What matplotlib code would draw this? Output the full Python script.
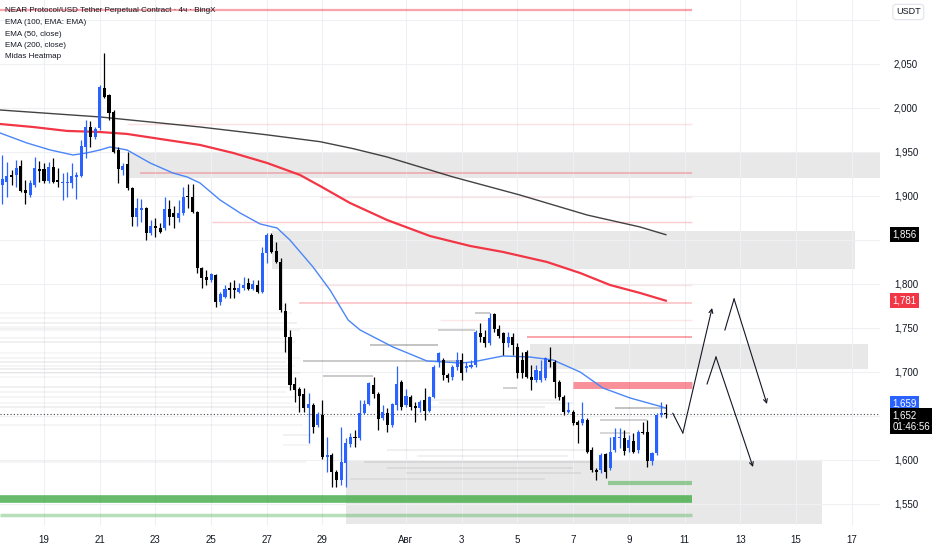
import numpy as np
import pandas as pd
import matplotlib
matplotlib.use("Agg")
import matplotlib.pyplot as plt
from matplotlib.patches import Rectangle

plt.rcParams['font.family'] = ['Liberation Sans Narrow', 'Liberation Sans', 'DejaVu Sans']

# 4h candles, NEAR/USDT
opens = [1912, 1916, 1923, 1924, 1934, 1907, 1901, 1912, 1931, 1931, 1917, 1933, 1918, 1915, 1915, 1915,
         1922, 1923, 1956, 1978, 1967, 1977, 2023, 2015, 1995, 1952, 1930, 1936, 1909, 1876, 1884, 1886,
         1858, 1866, 1864, 1864, 1885, 1881, 1875, 1881, 1900, 1899, 1882, 1818, 1808, 1805, 1810, 1780,
         1785, 1795, 1795, 1791, 1795, 1801, 1794, 1799, 1791, 1835, 1856, 1838, 1825, 1769, 1740, 1686,
         1681, 1675, 1659, 1662, 1640, 1651, 1603, 1606, 1586, 1577, 1597, 1618, 1626, 1625, 1653, 1664,
         1685, 1675, 1648, 1653, 1640, 1662, 1689, 1662, 1672, 1661, 1659, 1668, 1656, 1672, 1711, 1714,
         1697, 1694, 1706, 1714, 1705, 1706, 1708, 1744, 1740, 1733, 1766, 1749, 1744, 1733, 1740, 1728,
         1714, 1723, 1694, 1691, 1691, 1693, 1714, 1711, 1689, 1672, 1655, 1655, 1643, 1642, 1645, 1611,
         1589, 1589, 1607, 1591, 1611, 1625, 1625, 1614, 1622, 1611, 1632, 1632, 1599, 1608, 1651, 1653]
highs = [1947, 1939, 1930, 1941, 1941, 1918, 1918, 1944, 1940, 1937, 1939, 1943, 1932, 1926, 1927, 1937,
         1927, 1964, 1986, 1985, 1978, 2026, 2062, 2016, 1998, 1956, 1937, 1950, 1910, 1898, 1897, 1888,
         1873, 1875, 1869, 1899, 1895, 1889, 1895, 1910, 1914, 1914, 1883, 1819, 1816, 1812, 1811, 1791,
         1799, 1802, 1805, 1801, 1808, 1807, 1805, 1805, 1842, 1858, 1858, 1848, 1830, 1778, 1748, 1694,
         1683, 1682, 1676, 1665, 1654, 1668, 1626, 1608, 1589, 1637, 1625, 1631, 1634, 1668, 1668, 1689,
         1694, 1677, 1662, 1659, 1665, 1707, 1691, 1681, 1674, 1666, 1668, 1682, 1673, 1708, 1723, 1716,
         1699, 1708, 1723, 1722, 1711, 1714, 1748, 1756, 1748, 1767, 1767, 1753, 1745, 1745, 1744, 1733,
         1723, 1725, 1708, 1708, 1714, 1717, 1728, 1714, 1691, 1674, 1666, 1657, 1645, 1666, 1648, 1615,
         1591, 1608, 1608, 1626, 1636, 1636, 1634, 1628, 1631, 1634, 1643, 1645, 1609, 1653, 1666, 1664]
lows = [1891, 1899, 1912, 1910, 1905, 1891, 1899, 1910, 1916, 1915, 1915, 1915, 1910, 1895, 1899, 1909,
        1897, 1922, 1943, 1956, 1965, 1975, 2011, 1986, 1949, 1915, 1924, 1907, 1866, 1866, 1870, 1850,
        1856, 1853, 1858, 1861, 1867, 1864, 1870, 1878, 1886, 1881, 1812, 1795, 1799, 1802, 1774, 1776,
        1784, 1784, 1784, 1790, 1793, 1793, 1793, 1790, 1790, 1824, 1835, 1824, 1768, 1723, 1680, 1666,
        1655, 1655, 1619, 1631, 1637, 1601, 1586, 1569, 1569, 1572, 1569, 1615, 1615, 1623, 1652, 1662,
        1670, 1634, 1645, 1632, 1637, 1657, 1657, 1660, 1657, 1643, 1655, 1645, 1655, 1670, 1706, 1691,
        1689, 1691, 1702, 1691, 1700, 1705, 1706, 1734, 1728, 1731, 1745, 1739, 1719, 1728, 1719, 1693,
        1693, 1693, 1680, 1689, 1689, 1691, 1706, 1670, 1668, 1651, 1653, 1640, 1619, 1640, 1608, 1586,
        1577, 1585, 1580, 1589, 1609, 1614, 1606, 1609, 1608, 1608, 1630, 1592, 1594, 1606, 1649, 1648]
closes = [1919, 1923, 1922, 1932, 1906, 1903, 1915, 1932, 1928, 1917, 1933, 1916, 1916, 1916, 1916, 1923,
          1924, 1957, 1978, 1967, 1976, 2024, 2012, 1994, 1950, 1931, 1934, 1909, 1876, 1886, 1886, 1858,
          1866, 1864, 1859, 1885, 1876, 1876, 1881, 1899, 1899, 1882, 1818, 1807, 1805, 1811, 1780, 1789,
          1794, 1793, 1793, 1795, 1799, 1794, 1800, 1791, 1835, 1856, 1836, 1825, 1770, 1740, 1685, 1680,
          1673, 1659, 1664, 1637, 1652, 1603, 1606, 1586, 1577, 1598, 1619, 1626, 1625, 1653, 1664, 1688,
          1675, 1647, 1655, 1640, 1664, 1686, 1660, 1673, 1660, 1659, 1666, 1656, 1672, 1706, 1722, 1697,
          1693, 1706, 1714, 1699, 1706, 1708, 1745, 1740, 1733, 1761, 1749, 1741, 1733, 1740, 1731, 1699,
          1699, 1694, 1691, 1702, 1701, 1716, 1711, 1689, 1672, 1655, 1657, 1642, 1640, 1647, 1609, 1589,
          1586, 1606, 1586, 1609, 1626, 1626, 1610, 1623, 1609, 1632, 1631, 1599, 1608, 1651, 1653, 1652]
last_price = 1652
last_time = "2025-08-10 08:00"
base_day = pd.Timestamp("2025-07-19")

# EMA lines, sampled as (days since Jul 19, price)
ema200_day = [-1.58, 2.01, 5.60, 8.0, 9.91, 11.1, 12.32, 14.69, 17.09, 19.50, 21.40, 22.33]
ema200_val = [1997.7, 1989.8, 1978.4, 1969.5, 1961.7, 1953.8, 1944.3, 1921.6, 1901.1, 1878.4, 1864.8, 1856]
ema100_day = [-1.58, -0.40, 0.83, 2.01, 2.98, 4.42, 5.60, 6.79, 8.01, 9.19, 9.91, 10.99, 12.32, 13.86,
              15.30, 16.48, 18.06, 19.25, 20.32, 21.40, 22.33]
ema100_val = [1981.8, 1978.4, 1973.9, 1972.7, 1970.5, 1963.6, 1958.0, 1948.9, 1937.5, 1923.9, 1911.4,
              1892.0, 1872.7, 1854.5, 1843.2, 1836.4, 1825.0, 1812.5, 1798.9, 1789.8, 1781]
ema50_day = [-1.58, -0.61, 0.22, 1.04, 1.54, 2.01, 2.37, 2.98, 3.81, 4.63, 5.14, 5.60, 6.32, 7.04, 7.76,
             8.37, 8.83, 9.66, 10.27, 10.92, 11.35, 12.53, 13.75, 14.94, 15.40, 16.48, 17.45, 18.28,
             19.25, 20.07, 21.04, 22.12, 22.33]
ema50_val = [1971.6, 1960.2, 1952.3, 1946.6, 1948.9, 1952.3, 1955.7, 1952.3, 1937.5, 1926.1, 1921.6,
             1914.8, 1895.5, 1880.7, 1868.2, 1863.6, 1850.0, 1819.3, 1793.2, 1759.1, 1747.7, 1728.4,
             1712.5, 1710.2, 1711.4, 1718.2, 1717.0, 1713.6, 1700.0, 1681.8, 1670.5, 1661, 1659]

# grey supply/demand zones: start day, end day, low, high
zone_start = [3.02, 8.19, 17.45, 10.84]
zone_end = [30.2, 29.12, 29.59, 27.94]
zone_low = [1920.5, 1817.0, 1703.4, 1527.3]
zone_high = [1950.0, 1860.2, 1731.8, 1598.9]

# heatmap levels (red = asks, green = bids)
red_price = [2111.4, 1981.8, 1926.1, 1898.9, 1870.5, 1798.9, 1778.4, 1759.0, 1739.8, 1685.0]
red_start = [-1.58, 2.98, 3.45, 9.91, 6.03, 9.91, 9.16, 14.22, 17.34, 19.0]
red_alpha = [0.45, 0.15, 0.35, 0.12, 0.25, 0.12, 0.3, 0.12, 0.45, 0.55]
red_width = [1.6, 1.0, 1.2, 1.0, 1.0, 1.0, 1.2, 1.0, 1.4, 5.0]
green_price = [1555.1, 1536.9, 1573.8]
green_start = [-1.58, -1.58, 20.25]
green_alpha = [0.85, 0.4, 0.55]
green_width = [5.5, 2.5, 3.0]
heat_end = 23.27

grey_price = [1767.0, 1761.4, 1755.7, 1751.1, 1747.7, 1738.6, 1734.1, 1721.6, 1715.9, 1711.4, 1706.8,
              1703.4, 1698.9, 1694.3, 1683.0, 1677.3, 1671.6, 1664.8, 1660.2, 1639.8, 1597.7,
              1628.0, 1617.0, 1730.7, 1712.5, 1695.5, 1747.7, 1767.0, 1681.8, 1659.0, 1645.5, 1630.7,
              1668.0, 1664.8, 1660.2, 1611.4, 1604.5, 1597.7, 1590.9, 1585.2, 1578.0]
grey_start = [-1.58, -1.58, -1.58, -1.58, -1.58, -1.58, -1.58, -1.58, -1.58, -1.58, -1.58, -1.58,
              -1.58, -1.58, -1.58, -1.58, -1.58, -1.58, -1.58, -1.58, -1.58, 8.6, 8.6, 11.71, 9.30,
              10.02, 14.15, 15.48, 16.48, 20.50, 19.96, 19.96, 13.86, 14.2, 13.9, 12.3, 13.4, 11.5,
              12.3, 13.0, 11.0]
grey_end = [8.9, 8.7, 9.1, 8.8, 9.2, 8.6, 9.0, 8.8, 9.2, 8.7, 9.0, 8.9, 9.2, 8.8, 9.0, 8.7, 9.1, 8.9,
            9.2, 9.3, 9.4, 9.6, 9.6, 14.15, 14.94, 11.81, 15.48, 16.01, 16.98, 22.33, 21.65, 21.04,
            18.5, 19.0, 18.0, 19.6, 18.8, 19.6, 19.0, 19.3, 18.0]
grey_alpha = [0.08, 0.06, 0.1, 0.06, 0.08, 0.07, 0.11, 0.06, 0.08, 0.1, 0.07, 0.11, 0.08, 0.06, 0.1,
              0.07, 0.08, 0.06, 0.1, 0.08, 0.08, 0.1, 0.08, 0.45, 0.4, 0.4, 0.35, 0.4, 0.35, 0.45,
              0.35, 0.3, 0.1, 0.1, 0.12, 0.12, 0.1, 0.15, 0.12, 0.12, 0.1]

# hand-drawn forecast paths (day, price)
path_day = [[22.58, 22.94, 23.99], [24.45, 24.78, 25.96], [23.81, 24.13, 25.46]]
path_val = [[1653, 1630.7, 1772.7], [1747.7, 1783, 1663.6], [1686.4, 1717, 1592]]

tick_dates = ["2025-07-19", "2025-07-21", "2025-07-23", "2025-07-25", "2025-07-27", "2025-07-29",
              "2025-08-01", "2025-08-03", "2025-08-05", "2025-08-07", "2025-08-09", "2025-08-11",
              "2025-08-13", "2025-08-15", "2025-08-17"]
tick_labels = ["19", "21", "23", "25", "27", "29", "Авг", "3", "5", "7", "9", "11", "13", "15", "17"]
price_ticks = list(range(1550, 2101, 50))
hidden_ticks = [1650, 1850, 2100]   # covered by the price tags / currency box

up_col = '#2962ff'
dn_col = '#000000'
txt_col = '#131722'

W, H = 932, 550
fig = plt.figure(figsize=(W / 100, H / 100), dpi=100)
ax = fig.add_axes([0, 25 / H, 880 / W, 525 / H])

times = pd.date_range(end=last_time, periods=len(opens), freq="4h")
x = ((times - base_day) / pd.Timedelta("1D")).to_numpy()
o = np.array(opens, float)
h = np.array(highs, float)
l = np.array(lows, float)
c = np.array(closes, float)
up = c >= o

# zones
for s, e, lo, hi in zip(zone_start, zone_end, zone_low, zone_high):
    ax.add_patch(Rectangle((s, lo), e - s, hi - lo, color='#e6e6e6', alpha=0.9, lw=0, zorder=0.5))

# heatmap lines
for p, s, e, a in zip(grey_price, grey_start, grey_end, grey_alpha):
    ax.plot([s, e], [p, p], color='#555555', alpha=a, lw=1.1, solid_capstyle='butt', zorder=1)
for p, s, a, w in zip(red_price, red_start, red_alpha, red_width):
    ax.plot([s, heat_end], [p, p], color='#f23645', alpha=a, lw=w, solid_capstyle='butt', zorder=1)
for p, s, a, w in zip(green_price, green_start, green_alpha, green_width):
    ax.plot([s, heat_end], [p, p], color='#4caf50', alpha=a, lw=w, solid_capstyle='butt', zorder=1)

# current price line
ax.axhline(last_price, color=txt_col, lw=0.8, ls=(0, (1, 2)), alpha=0.8, zorder=2)

# EMAs
ax.plot(ema200_day, ema200_val, color='#222222', lw=1.0, alpha=0.85, zorder=4)
ax.plot(ema100_day, ema100_val, color='#f23645', lw=1.6, zorder=4)
ax.plot(ema50_day, ema50_val, color='#4a86f7', lw=1.0, zorder=4)

# candles
cols = np.where(up, up_col, dn_col)
ax.vlines(x, l, h, colors=cols, lw=0.9, zorder=5)
body_lo = np.minimum(o, c)
body_h = np.maximum(np.abs(c - o), 1.3)
ax.bar(x, body_h, bottom=body_lo, width=0.11, color=cols, lw=0, zorder=6)

# forecast arrows
for dd, vv in zip(path_day, path_val):
    ax.plot(dd[:-1], vv[:-1], color=txt_col, lw=0.8, zorder=7)
    ax.annotate('', xy=(dd[-1], vv[-1]), xytext=(dd[-2], vv[-2]),
                arrowprops=dict(arrowstyle='->', color=txt_col, lw=0.8, shrinkA=0, shrinkB=0,
                                mutation_scale=7), zorder=7)

ax.set_xlim(-1.58, 30.02)
ax.set_ylim(1526.1, 2122.7)

tick_x = [(pd.Timestamp(d) - base_day) / pd.Timedelta("1D") for d in tick_dates]
ax.set_xticks(tick_x)
ax.set_xticklabels(tick_labels, fontsize=7, color=txt_col)
ax.set_yticks(price_ticks)
ax.set_yticklabels(["" if v in hidden_ticks else f"{v:,}" for v in price_ticks],
                   fontsize=7, color=txt_col)
ax.yaxis.tick_right()
ax.tick_params(axis='x', length=0, pad=7)
ax.tick_params(axis='y', length=0, pad=10)
ax.grid(True, color='#eef0f3', lw=0.8, zorder=0)
ax.set_axisbelow(True)
for sp in ax.spines.values():
    sp.set_visible(False)

# price labels on the scale
def price_tag(val, text, fc, dy=0):
    ax.annotate(text, xy=(1, val), xycoords=('axes fraction', 'data'), xytext=(9, dy),
                textcoords='offset points', ha='left', va='center', fontsize=7, color='white',
                bbox=dict(boxstyle='square,pad=0.25', fc=fc, ec='none'), annotation_clip=False,
                zorder=10)

price_tag(ema200_val[-1], f"{ema200_val[-1]:,.0f}", '#000000')
price_tag(ema100_val[-1], f"{ema100_val[-1]:,.0f}", '#f23645')
price_tag(ema50_val[-1], f"{ema50_val[-1]:,.0f}", '#2962ff', dy=3.6)
price_tag(last_price, f"{last_price:,}\n01:46:56", '#000000', dy=-4.8)

# legend text, top left
legend_lines = ["NEAR Protocol/USD Tether Perpetual Contract · 4ч · BingX",
                "EMA (100, EMA: EMA)", "EMA (50, close)", "EMA (200, close)", "Midas Heatmap"]
for i, t in enumerate(legend_lines):
    fig.text(5 / W, 1 - (11 + i * 11.5) / H, t, fontsize=5.8, color=txt_col, va='center', ha='left')

fig.text(896 / W, 1 - 12 / H, "USDT", fontsize=6.5, color=txt_col, va='center', ha='left',
         bbox=dict(boxstyle='round,pad=0.35', fc='white', ec='#e0e3eb', lw=0.8))

fig.savefig("out.png", dpi=100)
